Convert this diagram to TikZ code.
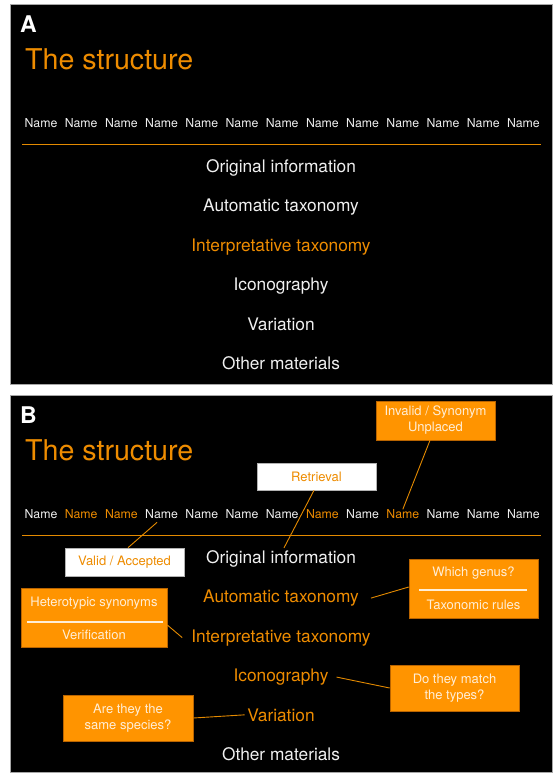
\documentclass[tikz,border=0pt]{standalone}
\usepackage{fontspec}
\setmainfont{TeX Gyre Heros}
\definecolor{orT}{RGB}{238,140,0}
\definecolor{boxor}{RGB}{255,148,0}
\definecolor{boxedge}{RGB}{185,100,0}
\definecolor{cream}{RGB}{255,238,214}
\definecolor{ruleor}{RGB}{228,138,0}
\definecolor{softwhite}{RGB}{240,240,240}
\begin{document}
\begin{tikzpicture}[x=1pt,y=-1pt,
  panel/.style={fill=black,draw=gray!70,line width=0.8pt},
  letter/.style={anchor=base west,inner sep=0pt,text=white,font=\fontsize{23}{23}\selectfont\bfseries},
  title/.style={anchor=base west,inner sep=0pt,text=orT,font=\fontsize{28.6}{28.6}\selectfont},
  nm/.style={anchor=base,inner sep=0pt,font=\fontsize{12.3}{12.3}\selectfont},
  item/.style={anchor=base,inner sep=0pt,font=\fontsize{17.3}{17.3}\selectfont},
  obox/.style={fill=boxor,draw=boxedge,line width=0.6pt,text=cream,align=center,inner sep=2pt,
    font=\fontsize{13}{16}\selectfont},
  wbox/.style={fill=white,draw=gray!60,line width=0.6pt,text=orT,align=center,inner sep=2pt,
    font=\fontsize{13}{16}\selectfont},
  btxt/.style={text=cream,inner sep=0pt,font=\fontsize{13}{16}\selectfont},
  conn/.style={draw=ruleor,line width=0.9pt},
  sepline/.style={draw=cream,line width=1.4pt},
  hrule/.style={draw=ruleor,line width=0.9pt}]
\useasboundingbox (0,0) rectangle (554,774);
\fill[white] (0,0) rectangle (554,774);
% ---------- panel A ----------
\draw[panel] (10,4) rectangle (552,384);
\begin{scope}[shift={(0,4)}]
  \node[letter] (aL) at (20,28) {A};
  \node[title] (aT) at (25,65) {The structure};
  \foreach \i in {1,...,13} \node[nm,text=softwhite] (an\i) at ({41+40.2*(\i-1)},123.5) {Name};
  \coordinate (aR1) at (22,140);
  \coordinate (aR2) at (541,140);
  \draw[hrule] (aR1) -- (aR2);
  \node[item,text=softwhite] (aoi) at (281,168) {Original information};
  \node[item,text=softwhite] (aauto) at (281,207.5) {Automatic taxonomy};
  \node[item,text=orT] (ainterp) at (281,247) {Interpretative taxonomy};
  \node[item,text=softwhite] (aicon) at (281,286.5) {Iconography};
  \node[item,text=softwhite] (avar) at (281,326) {Variation};
  \node[item,text=softwhite] (aoth) at (281,365.5) {Other materials};
\end{scope}
% ---------- panel B ----------
\draw[panel] (10,395) rectangle (552,772);
\begin{scope}[shift={(0,395)}]
  \node[letter] (bL) at (20,28) {B};
  \node[title] (bT) at (25,65) {The structure};
  \foreach \i/\c in {1/softwhite,2/orT,3/orT,4/softwhite,5/softwhite,6/softwhite,7/softwhite,8/orT,9/softwhite,10/orT,11/softwhite,12/softwhite,13/softwhite}
    \node[nm,text=\c] (bn\i) at ({41+40.2*(\i-1)},123.5) {Name};
  \coordinate (bR1) at (22,140);
  \coordinate (bR2) at (541,140);
  \draw[hrule] (bR1) -- (bR2);
  \node[item,text=softwhite] (boi) at (281,168) {Original information};
  \node[item,text=orT] (bauto) at (281,207.5) {Automatic taxonomy};
  \node[item,text=orT] (binterp) at (281,247) {Interpretative taxonomy};
  \node[item,text=orT] (bicon) at (281,286.5) {Iconography};
  \node[item,text=orT] (bvar) at (281,326) {Variation};
  \node[item,text=softwhite] (both) at (281,365.5) {Other materials};
\end{scope}
% ---------- boxes ----------
\node[obox,minimum width=119pt,minimum height=39pt] (inv) at (435.5,420.5) {Invalid / Synonym\\Unplaced};
\node[wbox,minimum width=119pt,minimum height=27pt] (ret) at (316.5,476.5) {Retrieval};
\node[wbox,minimum width=119pt,minimum height=28pt] (val) at (124.5,562) {Valid / Accepted};
\node[obox,minimum width=129pt,minimum height=59pt] (gen) at (473.5,588.5) {};
\node[btxt] (genA) at (473.5,573) {Which genus?};
\node[btxt] (genB) at (473.5,605) {Taxonomic rules};
\coordinate (genS1) at (419,590);
\coordinate (genS2) at (527,590);
\draw[sepline] (genS1) -- (genS2);
\node[obox,minimum width=146pt,minimum height=59pt] (het) at (94,617.5) {};
\node[btxt] (hetA) at (94,603) {Heterotypic synonyms};
\node[btxt] (hetB) at (94,635) {Verification};
\coordinate (hetS1) at (27,622);
\coordinate (hetS2) at (163,622);
\draw[sepline] (hetS1) -- (hetS2);
\node[obox,minimum width=129pt,minimum height=46pt] (match) at (454.5,688) {Do they match\\the types?};
\node[obox,minimum width=130pt,minimum height=46pt] (same) at (128,718) {Are they the\\same species?};
% ---------- connectors ----------
\draw[conn] ([xshift=-5.5pt]inv.south) -- (bn10.north);
\draw[conn] ([xshift=-2.5pt]ret.south) -- ([shift={(3pt,2pt)}]boi.north);
\draw[conn] ([xshift=3.5pt]val.north) -- ([shift={(-4.6pt,-3.5pt)}]bn4.south);
\draw[conn] ([yshift=1.5pt]gen.west) -- ([xshift=12pt]bauto.east);
\draw[conn] ([yshift=-7.5pt]het.east) -- ([xshift=-9pt]binterp.west);
\draw[conn] ([xshift=8pt]bicon.east) -- (match.west);
\draw[conn] (same.east) -- ([xshift=-2.5pt]bvar.west);
\end{tikzpicture}
\end{document}
